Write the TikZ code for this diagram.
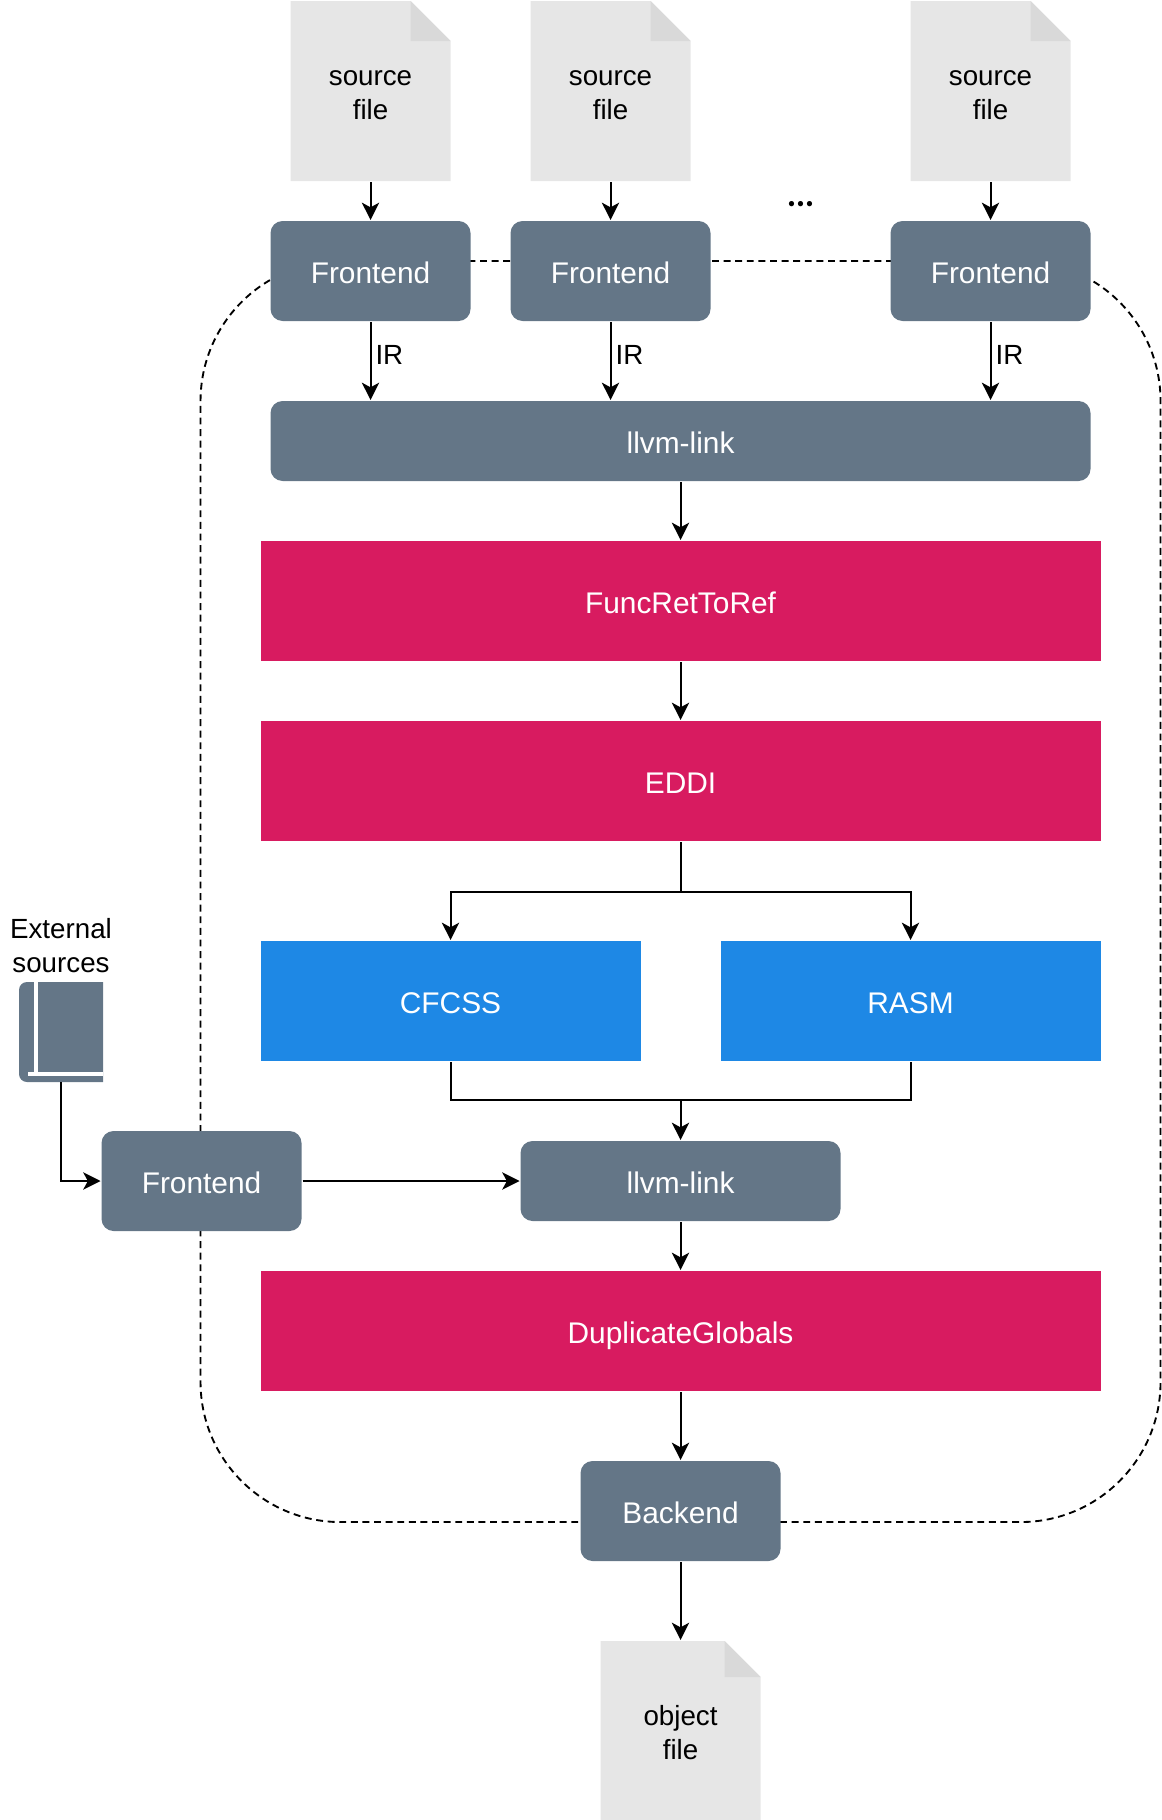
\documentclass[tikz,border=0pt]{standalone}
\usepackage{fontspec}
\setmainfont{Liberation Sans}
\newfontfamily\dotfont{Poppins}
\usetikzlibrary{arrows.meta}
\usetikzlibrary{positioning}
\usetikzlibrary{backgrounds}
\usetikzlibrary{calc}
\definecolor{slate}{HTML}{647687}
\definecolor{crimson}{HTML}{D81B60}
\definecolor{skyblue}{HTML}{1E88E5}
\definecolor{paper}{HTML}{E6E6E6}
\definecolor{paperfold}{HTML}{D9D9D9}
\tikzset{
    inktext/.style={font=\fontsize{20.8}{25.5}\selectfont},
    tool/.style={fill=slate, text=white, rounded corners=9pt, inner sep=0pt, text height=19pt, text depth=0pt, minimum width=150pt, minimum height=75pt},
    pass/.style={fill=crimson, text=white, inner sep=0pt, text height=18.5pt, text depth=0pt, minimum width=630pt, minimum height=90pt},
    cfpass/.style={pass, fill=skyblue, minimum width=285pt},
    docfile/.style={inktext, inner sep=0pt, align=center, text height=43pt, minimum width=120pt, minimum height=135pt,
        path picture={
            \fill[paper] (path picture bounding box.north east) ++(-#1,0) -- (path picture bounding box.north west) -- (path picture bounding box.south west) -- (path picture bounding box.south east) -- ++(0,135pt-#1) -- cycle;
            \fill[paperfold] (path picture bounding box.north east) ++(-#1,0) -- ++(0,-#1) -- ++(#1,0) -- cycle;
        }},
    docfile/.default=30pt,
}
\begin{document}
\begin{tikzpicture}[node distance=135pt,on grid,auto,>={Stealth[length=13pt,width=13pt,inset=3.5pt]},line width=1.5pt,font=\fontsize{22.4}{25.5}\selectfont]
            \useasboundingbox (0,0) rectangle (871.5pt,-1365pt);
            \node[tool] (f_1) at (277.9pt,-203.25pt) {Frontend};
            \node[tool] (f_2) [right=180pt of f_1] {Frontend};
            \node[tool] (f_3) [right=285pt of f_2] {Frontend};
            \node[docfile] (src_1) [above=of f_1] {source\\file};
            \node[docfile] (src_2) [above=of f_2] {source\\file};
            \node[docfile] (src_3) [above=of f_3] {source\\file};
            \node[font=\fontsize{32}{34}\selectfont\dotfont] (dots) at ($(f_2)!0.5!(f_3)+(0,50.25pt)$) {...};
            \node[tool, minimum width=615pt, minimum height=60pt] (link_1) at ($(f_1)!0.5!(f_3)+(0,-127.5pt)$) {llvm-link};
            \node[pass] (func) [below=120pt of link_1] {FuncRetToRef};
            \node[pass] (eddi) [below=of func] {EDDI};
            \node[cfpass] (cfcss) [below left=165pt and 172.5pt of eddi] {CFCSS};
            \node[cfpass] (rasm) [below right=165pt and 172.5pt of eddi] {RASM};
            \node[tool, minimum width=240pt, minimum height=60pt] (link_2) [below=300pt of eddi] {llvm-link};
            \node[tool] (f_4) [left=359.25pt of link_2] {Frontend};
            \node[pass] (dup) [below=112.5pt of link_2] {DuplicateGlobals};
            \node[tool] (back) [below=of dup] {Backend};
            \node[docfile=27pt] (obj) [below=165pt of back] {object\\file};
            \node[inktext, align=center] (ext) at (45.75pt,-709pt) {External\\sources};
            \node[inner sep=0pt, minimum width=61.5pt, minimum height=73.5pt] (book) at (45.75pt,-774pt) {};
            \fill[slate, rounded corners=6pt] (book.north) -- (book.north west) -- (book.south west) -- (book.south) [sharp corners] -- (book.south east) -- (book.north east) -- cycle;
            \draw[white, line width=3pt] ($(book.north west)+(12.75pt,0)$) -- ($(book.south west)+(12.75pt,6pt)$);
            \draw[white, line width=3pt] ($(book.south west)+(6.75pt,6pt)$) -- ($(book.south east)+(0,6pt)$);
            \begin{scope}[on background layer]
                \node[draw, line width=1.4pt, dash pattern=on 5.2pt off 3.5pt, rounded corners=105pt, inner sep=0pt, minimum width=720pt, minimum height=945.75pt] (group) [below=82.9pt of eddi] {};
            \end{scope}
            \coordinate (split) at ($(eddi.south)+(0,-37.5pt)$);
            \coordinate (merge) at ($(link_2.north)+(0,30pt)$);
            \path[->]
            (src_1) edge (f_1)
            (src_2) edge (f_2)
            (src_3) edge (f_3)
            (f_1) edge node[inktext, pos=0.42, inner sep=3pt] {IR} (f_1 |- link_1.north)
            (f_2) edge node[inktext, pos=0.42, inner sep=3pt] {IR} (f_2 |- link_1.north)
            (f_3) edge node[inktext, pos=0.42, inner sep=3pt] {IR} (f_3 |- link_1.north)
            (link_1) edge (func)
            (func) edge (eddi)
            (merge) edge (link_2)
            (link_2) edge (dup)
            (dup) edge (back)
            (back) edge (obj)
            (f_4) edge (link_2);
            \draw (eddi.south) -- (split);
            \draw[->] (split) -| (cfcss.north);
            \draw[->] (split) -| (rasm.north);
            \draw (cfcss.south) |- (merge) -| (rasm.south);
            \draw[->] (book.south) |- (f_4.west);
        \end{tikzpicture}
\end{document}
